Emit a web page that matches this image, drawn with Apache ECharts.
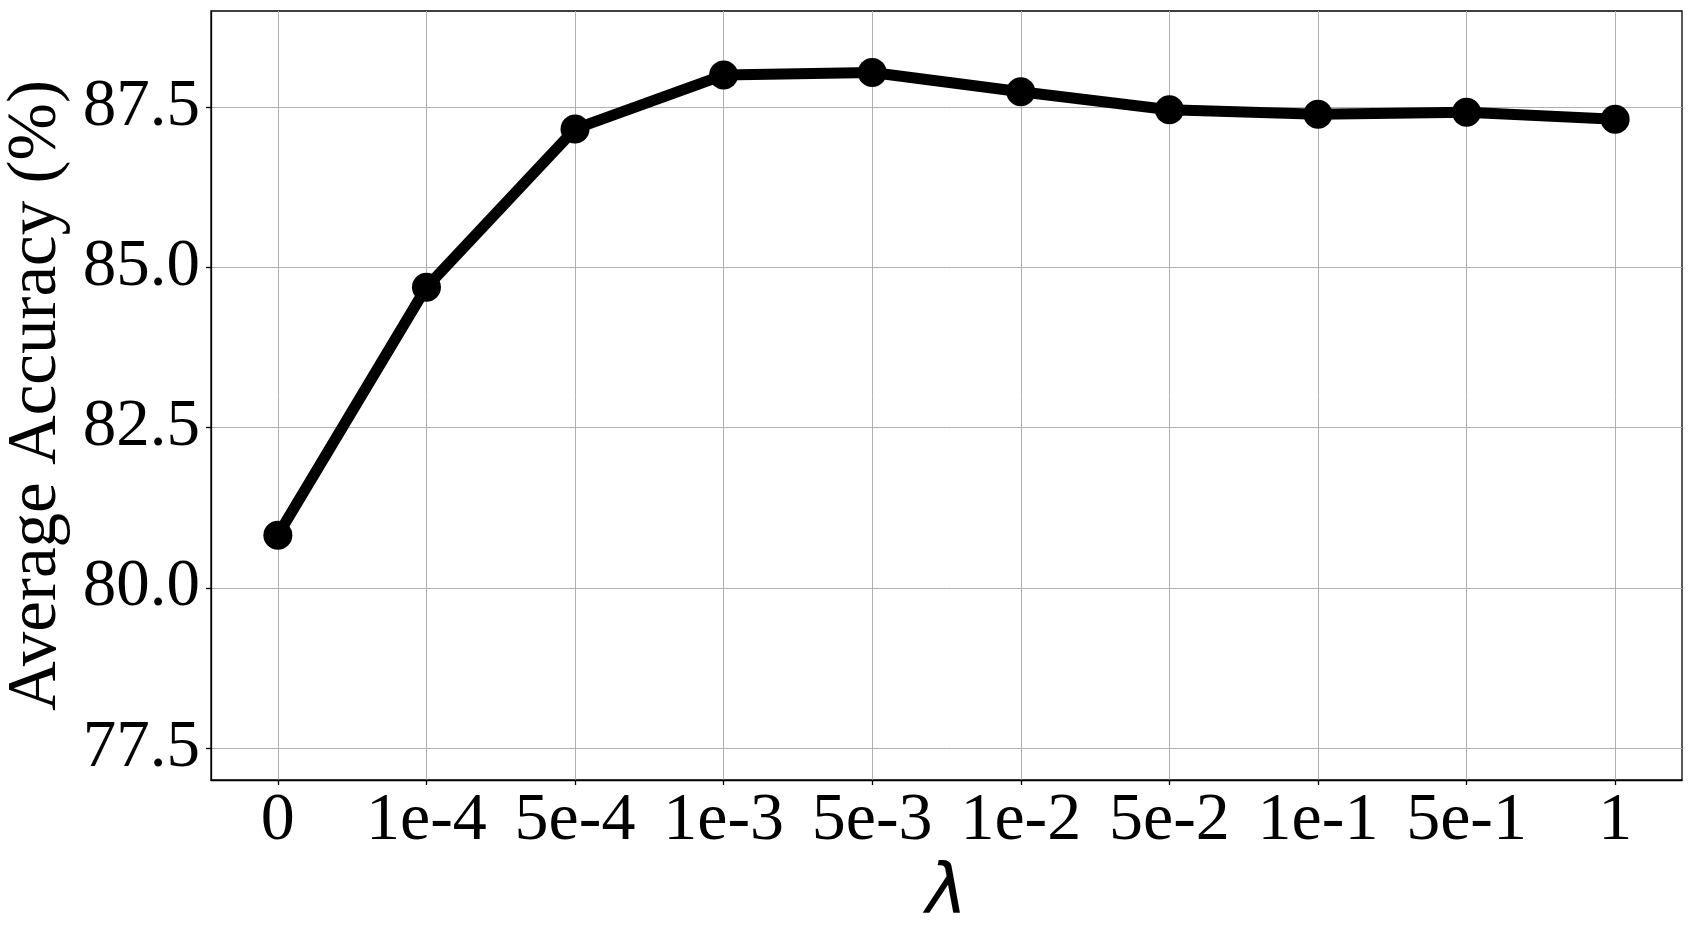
<!DOCTYPE html>
<html>
<head>
<meta charset="utf-8">
<script src="https://cdn.jsdelivr.net/npm/echarts@6/dist/echarts.min.js"></script>
<style>html,body{margin:0;padding:0;background:#fff;}#chart{width:1692px;height:931px;}</style>
</head>
<body>
<div id="chart"></div>
<script>
const categories = ['0', '1e-4', '5e-4', '1e-3', '5e-3', '1e-2', '5e-2', '1e-1', '5e-1', '1'];
const accuracy = [80.82, 84.69, 87.16, 88.00, 88.04, 87.74, 87.46, 87.39, 87.42, 87.31];
const yTicks = [77.5, 80.0, 82.5, 85.0, 87.5];
const xTicks = categories.map((c, i) => i);

const chart = echarts.init(document.getElementById('chart'), null, {renderer: 'canvas'});
const serif = '"Liberation Serif", "Times New Roman", serif';
chart.setOption({
  animation: false,
  backgroundColor: '#fff',
  grid: {
    left: 211, right: 10, top: 11, bottom: 151,
    show: true, borderColor: '#000', borderWidth: 1.3,
    outerBoundsMode: 'none'
  },
  xAxis: {
    type: 'value',
    min: -0.45, max: 9.45,
    name: 'λ',
    nameLocation: 'middle',
    nameGap: 64,
    nameTextStyle: {fontFamily: '"DejaVu Sans", sans-serif', fontStyle: 'italic', fontSize: 70, color: '#000'},
    axisLine: {show: true, onZero: false, lineStyle: {color: '#000', width: 1.3}},
    axisTick: {show: true, inside: false, length: 5, lineStyle: {color: '#000', width: 1.3}, customValues: xTicks},
    axisLabel: {customValues: xTicks, formatter: v => categories[Math.round(v)], fontFamily: serif, fontSize: 68, color: '#000', margin: 7},
    splitLine: {show: true, lineStyle: {color: '#b0b0b0', width: 1}}
  },
  yAxis: {
    type: 'value',
    min: 77.0, max: 89.0,
    name: 'Average Accuracy (%)',
    nameLocation: 'middle',
    nameGap: 136,
    nameTextStyle: {fontFamily: serif, fontSize: 69, color: '#000'},
    axisLine: {show: true, onZero: false, lineStyle: {color: '#000', width: 1.3}},
    axisTick: {show: true, inside: false, length: 5, lineStyle: {color: '#000', width: 1.3}, customValues: yTicks},
    axisLabel: {customValues: yTicks, formatter: v => v.toFixed(1), fontFamily: serif, fontSize: 67, color: '#000', margin: 11},
    splitLine: {show: true, lineStyle: {color: '#b0b0b0', width: 1}}
  },
  series: [{
    type: 'line',
    data: accuracy.map((v, i) => [xTicks[i], v]),
    symbol: 'circle',
    symbolSize: 29,
    itemStyle: {color: '#000'},
    lineStyle: {color: '#000', width: 11},
    z: 3
  }]
});
</script>
</body>
</html>
